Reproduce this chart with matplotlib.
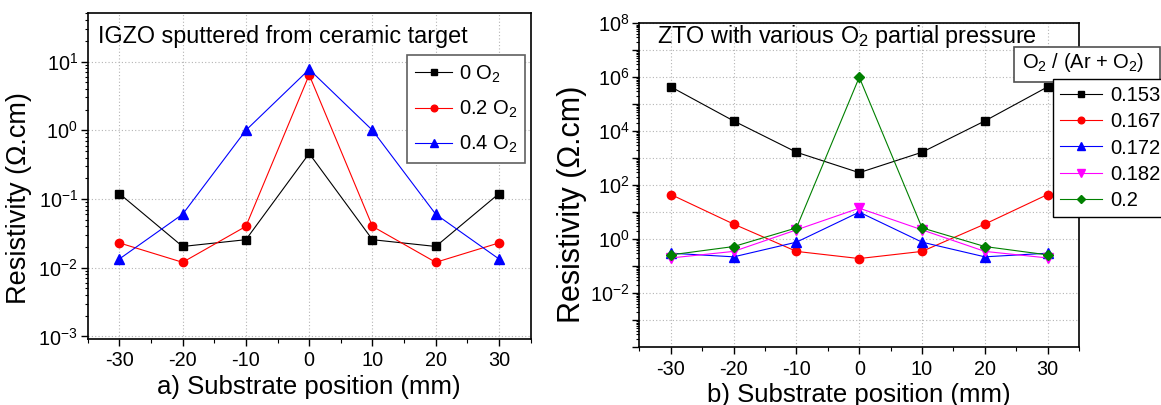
#!/usr/bin/env python3
# -*- coding: utf-8 -*-
"""
Resistivity vs substrate position, IGZO (a) and ZTO (b)
"""
import matplotlib
matplotlib.use('Agg')
import matplotlib.pyplot as plt
from matplotlib.ticker import FixedLocator, FuncFormatter, LogLocator, MultipleLocator
from matplotlib.patches import Rectangle
import numpy as np

plt.rcParams['font.family'] = ['Liberation Sans', 'DejaVu Sans']
plt.rcParams['mathtext.fontset'] = 'custom'
plt.rcParams['mathtext.rm'] = 'Liberation Sans'
plt.rcParams['mathtext.default'] = 'regular'
plt.rcParams['axes.unicode_minus'] = False

# data
position = [-30, -20, -10, 0, 10, 20, 30]

igzo_labels = ['0 O$_2$', '0.2 O$_2$', '0.4 O$_2$']
igzo_0 = [0.12, 0.0204, 0.0256, 0.46, 0.0256, 0.0204, 0.12]
igzo_02 = [0.023, 0.012, 0.040, 6.4, 0.040, 0.012, 0.023]
igzo_04 = [0.0134, 0.060, 1.0, 7.7, 1.0, 0.060, 0.0134]

zto_labels = ['0.153', '0.167', '0.172', '0.182', '0.2']
zto_0153 = [4.4e5, 2.4e4, 1.66e3, 290, 1.66e3, 2.4e4, 4.4e5]
zto_0167 = [45, 3.6, 0.35, 0.19, 0.35, 3.6, 45]
zto_0172 = [0.30, 0.22, 0.77, 10, 0.77, 0.22, 0.30]
zto_0182 = [0.20, 0.35, 2.2, 14, 2.2, 0.35, 0.20]
zto_02 = [0.26, 0.53, 2.6, 1.0e6, 2.6, 0.53, 0.26]

igzo_series = [igzo_0, igzo_02, igzo_04]
zto_series = [zto_0153, zto_0167, zto_0172, zto_0182, zto_02]

igzo_styles = [('black', 's', 5.5), ('red', 'o', 6), ('blue', '^', 7)]
zto_styles = [('black', 's', 5.5), ('red', 'o', 6), ('blue', '^', 7),
              ('magenta', 'v', 7), ('green', 'D', 5.5)]

TICK = 14.3
LEG = 14.5
LABEL = 18.5
NOTE = 16.8


def style_axes(ax):
    ax.set_xlim(-35, 35)
    ax.xaxis.set_major_locator(MultipleLocator(10))
    ax.xaxis.set_minor_locator(MultipleLocator(5))
    ax.yaxis.set_minor_locator(LogLocator(base=10, subs=np.arange(2, 10), numticks=30))
    ax.tick_params(which='major', direction='out', length=5, width=1, labelsize=TICK, pad=2)
    ax.tick_params(axis='x', which='major', pad=4)
    ax.tick_params(which='minor', direction='out', length=3, width=0.8)
    ax.tick_params(axis='y', which='minor', length=2.5)
    ax.grid(True, which='major', linestyle=(0, (1, 2)), color='#b4b4b4', linewidth=0.8)
    for s in ax.spines.values():
        s.set_linewidth(1.2)


def exp_label(k):
    return '$10^{%d}$' % k


fig = plt.figure(figsize=(11.61, 4.05), dpi=100)

# a) IGZO
ax1 = fig.add_axes([0.0755, 0.163, 0.3816, 0.8037])
ax1.set_yscale('log')
for vals, lab, (c, m, ms) in zip(igzo_series, igzo_labels, igzo_styles):
    ax1.plot(position, vals, color=c, marker=m, markersize=ms, linewidth=0.8, label=lab)
style_axes(ax1)
ax1.set_ylim(9.2e-4, 50)
ax1.yaxis.set_major_locator(FixedLocator([1e-3, 1e-2, 1e-1, 1e0, 1e1]))
ax1.yaxis.set_major_formatter(FuncFormatter(lambda v, p: exp_label(int(round(np.log10(v))))))
ax1.set_xlabel('a) Substrate position (mm)', fontsize=LABEL, labelpad=3)
ax1.set_ylabel('Resistivity (\u03a9.cm)', fontsize=19.5)
ax1.yaxis.set_label_coords(-0.125, 0.434)
ax1.text(0.023, 0.91, 'IGZO sputtered from ceramic target', transform=ax1.transAxes,
         fontsize=NOTE, va='baseline', ha='left')
leg1 = ax1.legend(loc='upper right', bbox_to_anchor=(0.9878, 0.8716), borderaxespad=0,
                  fontsize=LEG, fancybox=False, edgecolor='#606060', framealpha=1,
                  handlelength=1.8, handletextpad=0.35, labelspacing=0.7, markerscale=0.8,
                  borderpad=0.4)
leg1.get_frame().set_linewidth(1.2)

# b) ZTO
ax2 = fig.add_axes([0.5508, 0.1432, 0.3786, 0.7993])
ax2.set_yscale('log')
lines = []
for vals, lab, (c, m, ms) in zip(zto_series, zto_labels, zto_styles):
    ln, = ax2.plot(position, vals, color=c, marker=m, markersize=ms, linewidth=0.8, label=lab)
    lines.append(ln)
style_axes(ax2)
ax2.set_ylim(1e-4, 1e8)
ax2.yaxis.set_major_locator(FixedLocator([10.0 ** k for k in range(-4, 9)]))
ax2.yaxis.set_major_formatter(FuncFormatter(
    lambda v, p: exp_label(int(round(np.log10(v))))
    if int(round(np.log10(v))) % 2 == 0 and v > 2e-4 else ''))
ax2.set_xlabel('b) Substrate position (mm)', fontsize=LABEL, labelpad=3)
ax2.set_ylabel('Resistivity (\u03a9.cm)', fontsize=22)
ax2.yaxis.set_label_coords(-0.12, 0.44)
ax2.text(0.04, 0.938, 'ZTO with various O$_2$ partial pressure', transform=ax2.transAxes,
         fontsize=NOTE, va='baseline', ha='left')

# legend title box, sits on top of the axes
box = Rectangle((1014 / 1161, 1 - 82 / 405), (1160 - 1014) / 1161, (82 - 46.7) / 405,
                transform=fig.transFigure, facecolor='white', edgecolor='#505050',
                linewidth=1.2, zorder=2)
fig.patches.append(box)
fig.text(1022 / 1161, 1 - 63 / 405, 'O$_2$ / (Ar + O$_2$)', fontsize=LEG,
         va='center', ha='left', zorder=3)
leg2 = fig.legend(lines, zto_labels, loc='upper left', bbox_to_anchor=(1053 / 1161, 1 - 79 / 405),
                  borderaxespad=0, fontsize=LEG, fancybox=False, edgecolor='black',
                  framealpha=1, handlelength=2.1, handletextpad=0.4, labelspacing=0.36,
                  markerscale=0.8, borderpad=0.35)
leg2.get_frame().set_linewidth(1.0)

fig.savefig('out.png', dpi=100)
